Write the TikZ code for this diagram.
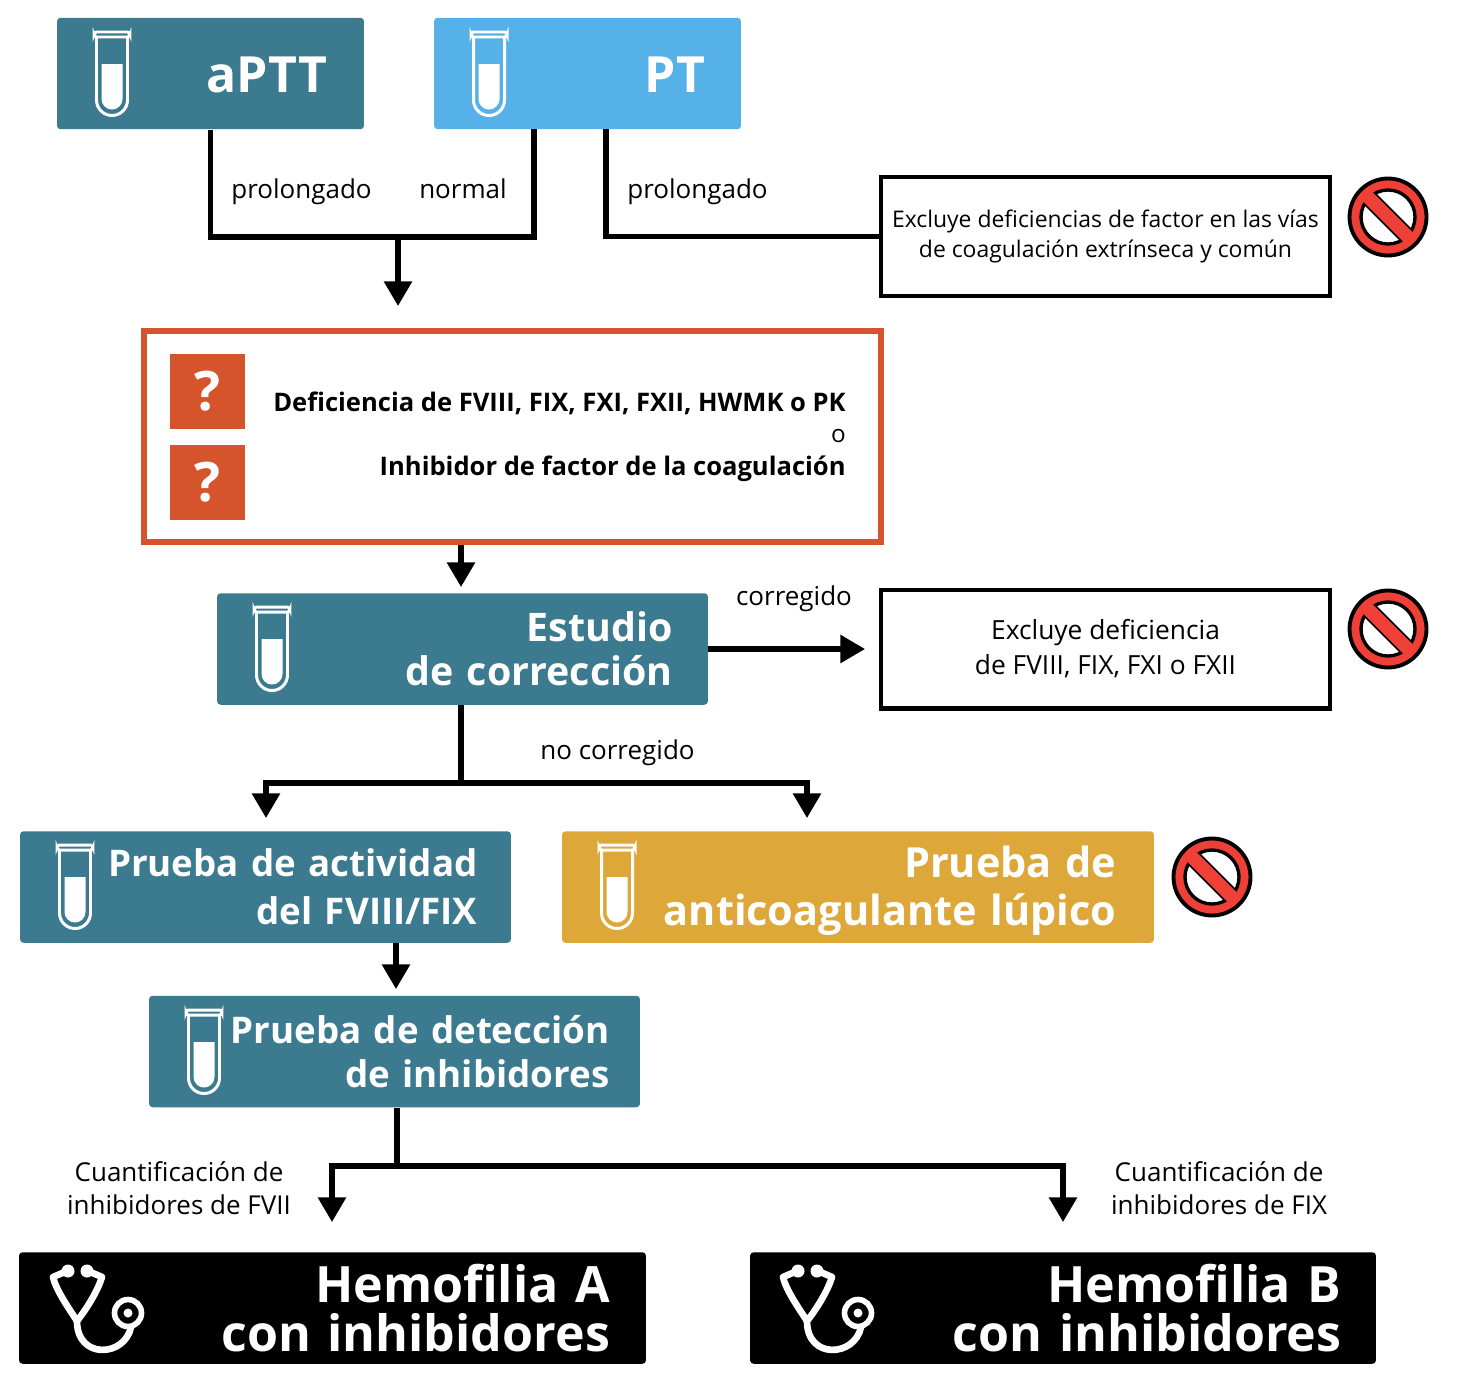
\documentclass[tikz,border=0pt]{standalone}
\usepackage{fontspec}
\setmainfont{Open Sans}
\usetikzlibrary{positioning,calc,arrows.meta}
\definecolor{hemoteal}{HTML}{3B7A8F}
\definecolor{hemosky}{HTML}{56B1E8}
\definecolor{hemogold}{HTML}{DDA73A}
\definecolor{hemoorange}{HTML}{D6542B}
\definecolor{hemored}{HTML}{EE4036}
\begin{document}
\begin{tikzpicture}[
  x=0.02cm, y=-0.02cm,
  tbox/.style 2 args={fill=hemoteal, rounded corners=2pt, text=white, align=right, inner sep=0pt, minimum height=2.23cm, minimum width=#1 cm, text width=#2 cm},
  tbig/.style={font=\fontsize{28.4}{28}\selectfont\bfseries},
  tmid/.style={font=\fontsize{22.4}{25}\selectfont\bfseries},
  tact/.style={font=\fontsize{20.9}{25}\selectfont\bfseries},
  tlup/.style={font=\fontsize{23.6}{27.3}\selectfont\bfseries},
  thuge/.style={font=\fontsize{28.5}{27.5}\selectfont\bfseries},
  plab/.style={font=\fontsize{14.8}{19}\selectfont, align=center, inner sep=0pt},
  exbox/.style={draw=black, line width=2.3pt, minimum width=9cm, minimum height=2.38cm, align=center, inner sep=0pt, font=\fontsize{13.05}{17.5}\selectfont},
  qsq/.style={fill=hemoorange, text=white, minimum size=1.5cm, inner sep=0pt, font=\fontsize{31}{31}\selectfont\bfseries},
  conn/.style={draw=black, line width=2.9pt},
  parrow/.style={conn, -{Triangle[length=14pt,width=15.5pt]}},
  tube/.pic={
    \fill[white] (-10.5,32) -- (10.5,32) -- (10.5,67) arc[start angle=0, end angle=180, radius=10.5] -- cycle;
    \draw[white, line width=1.7pt, rounded corners=1.5pt] (-18,0) rectangle (18,5);
    \draw[white, line width=1.7pt] (-15.5,5) -- (-15.5,68) arc[start angle=180, end angle=0, radius=15.5] -- (15.5,5);
  },
  steth/.pic={
    \draw[white, line width=3.8pt, line cap=round, line join=round] (17,6) -- (3,12) .. controls (6,25) and (18,42) .. (27,56) .. controls (38,42) and (48,25) .. (52,12) -- (38,6);
    \fill[white] (18,6) circle (6.5);
    \fill[white] (37,6) circle (6.5);
    \draw[white, line width=3.8pt, line cap=round] (27,56) .. controls (27,95) and (75,92) .. (81,62);
    \draw[white, line width=3.2pt] (78,48) circle (13.5);
    \fill[white] (78,48) circle (4.5);
  },
  nosign/.pic={
    \fill[hemored, draw=black, line width=2.2pt] (0,0) circle (38.5);
    \fill[white, draw=black, line width=1.9pt] (0,0) circle (27);
    \begin{scope}
      \clip (0,0) circle (27);
      \draw[black, line width=9.6pt] (-30,-30) -- (30,30);
    \end{scope}
    \draw[hemored, line width=7.6pt] (-23,-23) -- (23,23);
  },
]
\useasboundingbox (0,0) rectangle (1466,1390);

% top row
\node[tbox={6.14}{4.66}, tbig] (aptt) at (210.5,73.5) {\rule{0pt}{21.5pt}aPTT};
\node[tbox={6.14}{4.7}, tbig, fill=hemosky] (pt) at (587.5,73.5) {\rule{0pt}{21.5pt}PT};
\pic at (112,32) {tube};
\pic at (489,32) {tube};
\node[exbox] (excl1) at (1105.5,236.5) {Excluye deficiencias de factor en las vías\\de coagulación extrínseca y común};
\pic at (1388,217) {nosign};
\coordinate (ptn) at (534,129);
\coordinate (ptp) at (606,129);
\coordinate (j1) at (398,237);
\coordinate (a1) at (398,306);
\draw[conn] (aptt.south) |- (j1);
\draw[conn] (ptn) |- (j1);
\draw[conn] (ptp) |- (excl1.west);
\draw[parrow] (j1) -- (a1);
\node[plab] (lab1) at (301.5,192) {prolongado};
\node[plab] (lab2) at (463,189) {normal};
\node[plab] (lab3) at (697.5,192) {prolongado};

% question box
\node[draw=hemoorange, line width=3.4pt, minimum width=14.74cm, minimum height=4.22cm, inner sep=0pt] (qbox) at (512.5,436.5) {};
\node[qsq] (q1) at (207.5,391.5) {?};
\node[qsq] (q2) at (207.5,482.5) {?};
\node[anchor=east, inner sep=0pt, font=\fontsize{14.55}{18}\selectfont\bfseries] (qt1) at (846,403) {Deficiencia de FVIII, FIX, FXI, FXII, HWMK o PK};
\node[anchor=east, inner sep=0pt, font=\fontsize{13.8}{18}\selectfont] (qt2) at (846,436) {o};
\node[anchor=east, inner sep=0pt, font=\fontsize{14.55}{18}\selectfont\bfseries] (qt3) at (846,469) {Inhibidor de factor de la coagulación};

% correction study
\node[tbox={9.82}{8.4}, tmid] (corr) at (462.5,649) {Estudio\\de corrección};
\pic at (272,607) {tube};
\node[exbox, font=\fontsize{15}{20}\selectfont] (excl2) at (1105.5,649) {Excluye deficiencia\\de FVIII, FIX, FXI o FXII};
\pic at (1388,629) {nosign};
\coordinate (a2) at (461,587);
\coordinate (a3) at (865,649);
\draw[parrow] (a2 |- qbox.south) -- (a2);
\draw[parrow] (corr.east) -- (a3);
\node[plab] (lab4) at (794,599) {corregido};
\node[plab] (lab5) at (617.5,753) {no corregido};

% activity tests
\coordinate (j2) at (461,783);
\coordinate (a4) at (266,818);
\coordinate (a5) at (807,818);
\draw[conn] (j2 |- corr.south) -- (j2);
\draw[parrow] (j2) -| (a4);
\draw[parrow] (j2) -| (a5);
\node[tbox={9.82}{8.48}, tact, font=\fontsize{20.9}{27.3}\selectfont\bfseries] (act) at (265.5,887) {Prueba de actividad\\del FVIII/FIX};
\pic at (75,845) {tube};
\node[tbox={11.84}{10.34}, tlup, fill=hemogold] (lupus) at (858,887) {\rule{0pt}{22.5pt}Prueba de\\anticoagulante lúpico};
\pic at (617,845) {tube};
\pic at (1212,877) {nosign};
\coordinate (a6) at (396,989);
\draw[parrow] (a6 |- act.south) -- (a6);
\node[tbox={9.82}{8.6}, tact] (det) at (394.5,1051.5) {Prueba de detección\\de inhibidores};
\pic at (204,1010) {tube};

% results
\coordinate (j3) at (397,1166);
\coordinate (a7) at (332,1222);
\coordinate (a8) at (1063,1222);
\draw[conn] (j3 |- det.south) -- (j3);
\draw[parrow] (j3) -| (a7);
\draw[parrow] (j3) -| (a8);
\node[plab] (lab6) at (179,1188) {Cuantificación de\\inhibidores de FVII};
\node[plab] (lab7) at (1219,1188) {Cuantificación de\\inhibidores de FIX};
\node[tbox={12.54}{11.1}, thuge, fill=black] (hema) at (332.5,1308) {Hemofilia A\\con inhibidores};
\pic at (50,1265) {steth};
\node[tbox={12.52}{11.14}, thuge, fill=black] (hemb) at (1063,1308) {Hemofilia B\\con inhibidores};
\pic at (780,1265) {steth};
\end{tikzpicture}
\end{document}
